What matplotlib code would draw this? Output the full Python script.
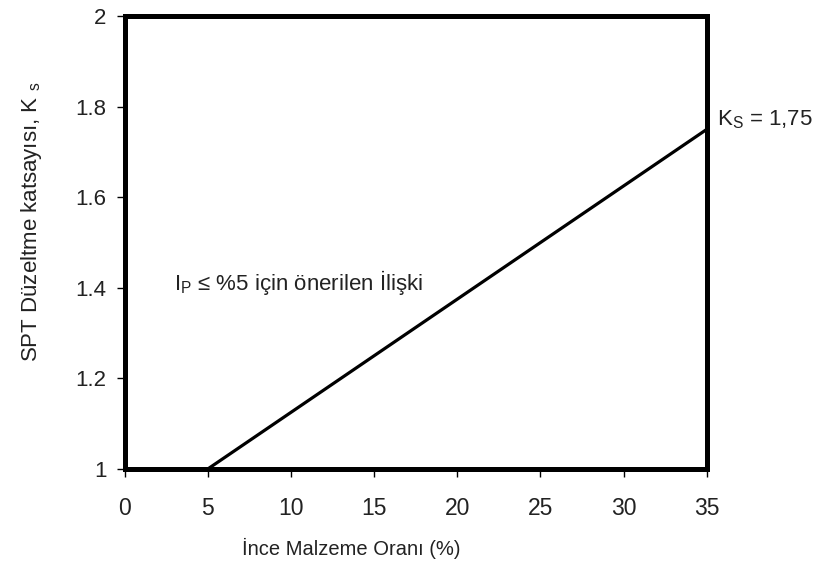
import matplotlib
matplotlib.use("Agg")
import matplotlib.pyplot as plt

# Fines content (%) and SPT correction factor K_s
fines_pct = [5, 35]
ks_values = [1.0, 1.75]

x_ticks = [0, 5, 10, 15, 20, 25, 30, 35]
y_ticks = [1.0, 1.2, 1.4, 1.6, 1.8, 2.0]
y_tick_labels = ["1", "1.2", "1.4", "1.6", "1.8", "2"]

family = "Liberation Sans"
plt.rcParams["font.family"] = [family, "DejaVu Sans"]
plt.rcParams["mathtext.fontset"] = "custom"
plt.rcParams["mathtext.rm"] = family

text_color = "#222222"

fig = plt.figure(figsize=(8.2, 5.74), dpi=100)
ax = fig.add_axes([0.152, 0.183, 0.710, 0.789])

ax.plot(fines_pct, ks_values, color="black", lw=2.3, solid_capstyle="butt")

ax.set_xlim(0, 35)
ax.set_ylim(1, 2)
ax.set_xticks(x_ticks)
ax.set_yticks(y_ticks)
ax.set_yticklabels(y_tick_labels)

for s in ax.spines.values():
    s.set_linewidth(3.6)
    s.set_color("black")

ax.tick_params(direction="out", length=6, width=1.0, colors="black",
               labelcolor=text_color)
ax.tick_params(axis="x", labelsize=16.5, pad=14)
ax.tick_params(axis="y", labelsize=16, pad=7)

ax.set_xlabel("İnce Malzeme Oranı (%)", fontsize=14.5, color=text_color)
ax.xaxis.set_label_coords(0.39, -0.152)
ax.set_ylabel(r"SPT Düzeltme katsayısı, K $_{\mathregular{s}}$", fontsize=16,
              color=text_color)
ax.yaxis.set_label_coords(-0.138, 0.545)

ax.text(35.6, 1.772, r"K$_{\mathregular{S}}$ = 1,75", fontsize=16,
        color=text_color, ha="left", va="center", clip_on=False)
ax.text(10.45, 1.411, r"I$_{\mathregular{P}}$ ≤ %5 için önerilen İlişki",
        fontsize=16, color=text_color, ha="center", va="center")

fig.savefig("out.png", dpi=100, facecolor="white")
